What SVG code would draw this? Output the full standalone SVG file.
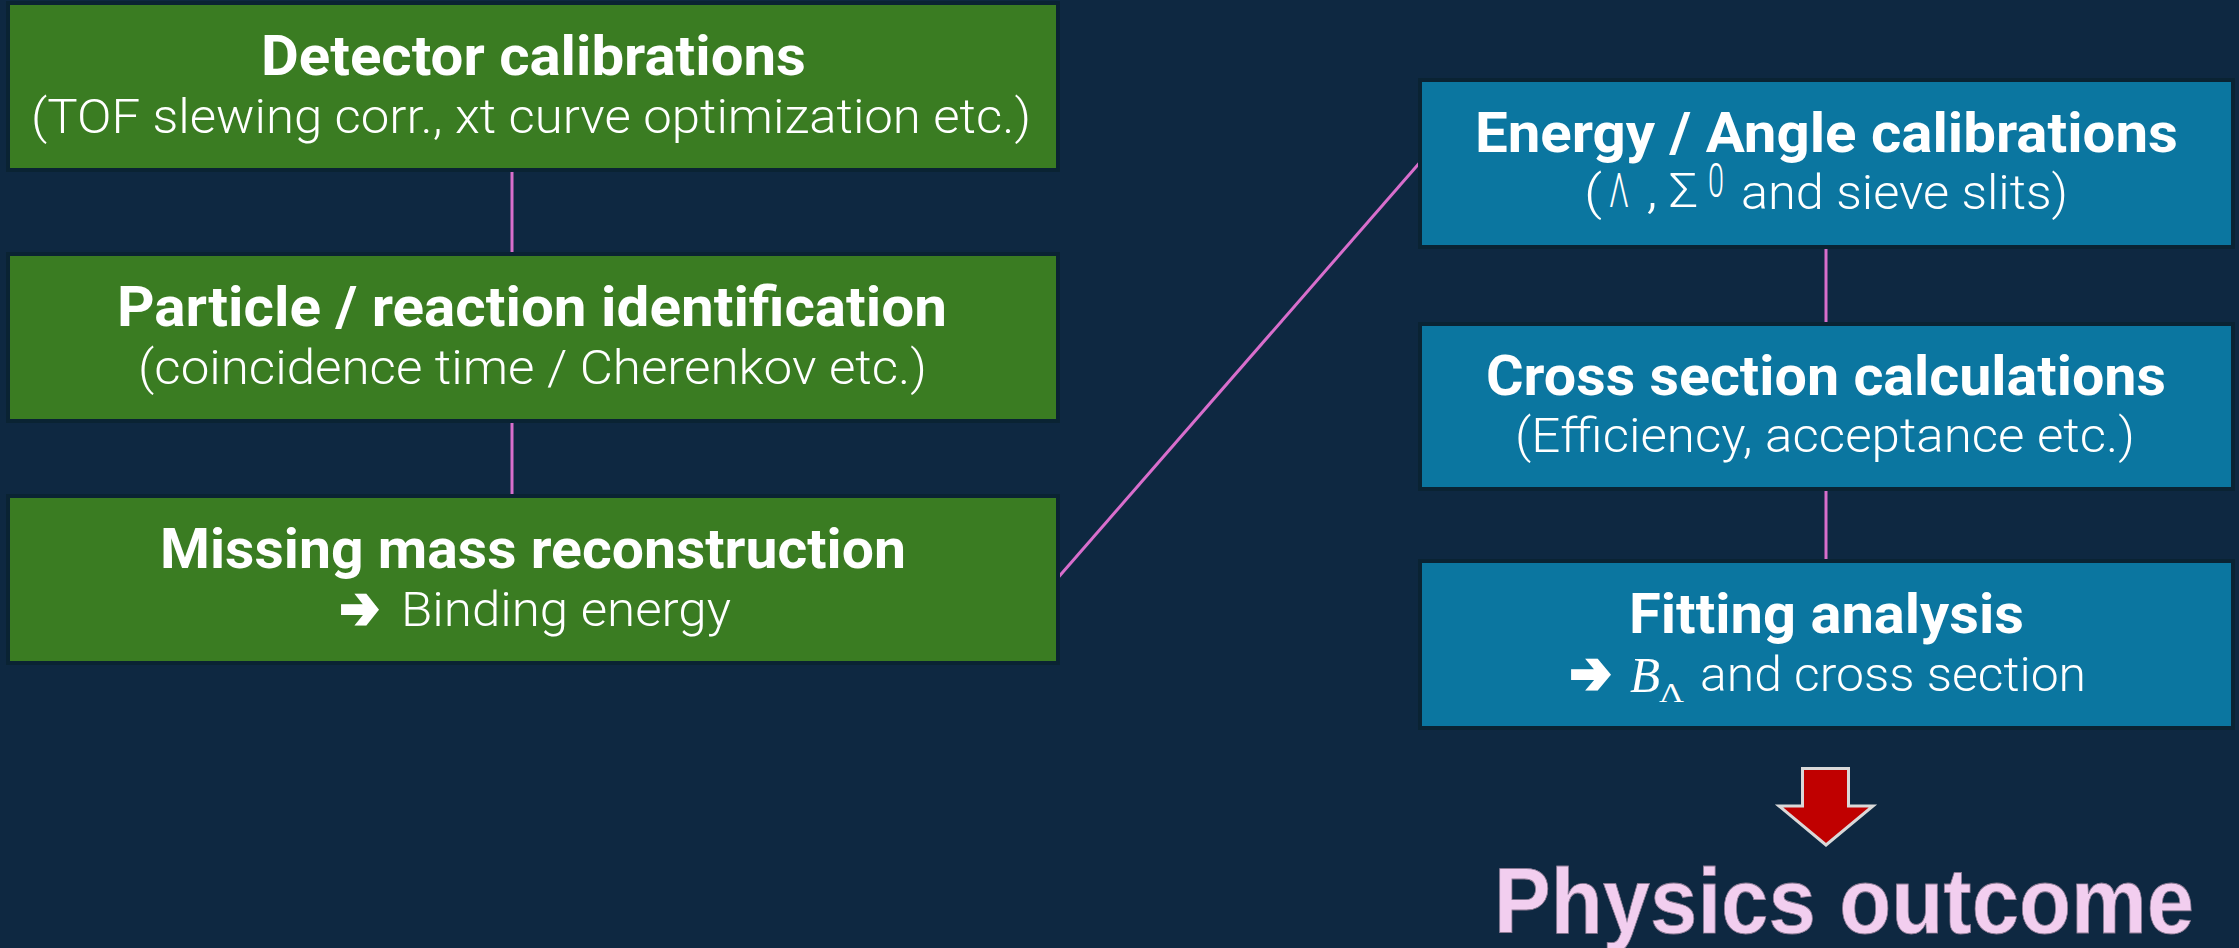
<svg xmlns="http://www.w3.org/2000/svg" width="2239" height="948" viewBox="0 0 2239 948">
  <defs>
    <style>
      .bg { fill: #0E2841; }
      .green { fill: #3A7C22; stroke: #0A2333; stroke-width: 4; }
      .blue { fill: #0B76A0; stroke: #0A2333; stroke-width: 4; }
      .link { stroke: #D86ECC; stroke-width: 3; fill: none; }
      .title { font-family: Roboto, "Liberation Sans", sans-serif; font-weight: 700; font-size: 55px; fill: #FFFFFF; }
      .sub { font-family: Roboto, "Liberation Sans", sans-serif; font-weight: 300; font-size: 48px; fill: #FFFFFF; }
      .sym { font-family: "DejaVu Sans", sans-serif; font-weight: 700; font-size: 58px; fill: #FFFFFF; stroke: #FFFFFF; stroke-width: 4; stroke-linejoin: miter; }
      .math { font-family: "Liberation Serif", "DejaVu Serif", serif; fill: #FFFFFF; }
      .outcome { font-family: "Liberation Sans", Arial, sans-serif; font-weight: 700; font-size: 92px; fill: #F2CEEF; stroke: #8C7A92; stroke-width: 0.8; }
    </style>
  </defs>

  <rect class="bg" x="0" y="0" width="2239" height="948"/>

  <!-- connectors are drawn first so the boxes cover their ends -->
  <g id="connectors">
    <line class="link" x1="512" y1="166" x2="512" y2="258"/>
    <line class="link" x1="512" y1="418" x2="512" y2="500"/>
    <line class="link" x1="1056" y1="580" x2="1422" y2="160"/>
    <line class="link" x1="1826" y1="243" x2="1826" y2="327"/>
    <line class="link" x1="1826" y1="486" x2="1826" y2="565"/>
  </g>

  <g id="detector-calibrations">
    <rect class="green" x="8" y="3" width="1050" height="167"/>
    <text class="title" x="261" y="75" textLength="545" lengthAdjust="spacingAndGlyphs">Detector calibrations</text>
    <text class="sub" x="31" y="133" textLength="1000" lengthAdjust="spacingAndGlyphs">(TOF slewing corr., xt curve optimization etc.)</text>
  </g>

  <g id="particle-identification">
    <rect class="green" x="8" y="254" width="1050" height="167"/>
    <text class="title" x="117" y="326" textLength="830" lengthAdjust="spacingAndGlyphs">Particle / reaction identification</text>
    <text class="sub" x="138" y="384" textLength="789" lengthAdjust="spacingAndGlyphs">(coincidence time / Cherenkov etc.)</text>
  </g>

  <g id="missing-mass">
    <rect class="green" x="8" y="496" width="1050" height="167"/>
    <text class="title" x="160" y="568" textLength="746" lengthAdjust="spacingAndGlyphs">Missing mass reconstruction</text>
    <text class="sym" x="340" y="628" textLength="39" lengthAdjust="spacingAndGlyphs">➔</text>
    <text class="sub" x="401" y="626" textLength="330" lengthAdjust="spacingAndGlyphs">Binding energy</text>
  </g>

  <g id="energy-angle-calibrations">
    <rect class="blue" x="1420" y="80" width="813" height="167"/>
    <text class="title" x="1475" y="152" textLength="703" lengthAdjust="spacingAndGlyphs">Energy / Angle calibrations</text>
    <text class="sub" x="1584" y="209" textLength="18" lengthAdjust="spacingAndGlyphs">(</text>
    <text class="sub" x="1609" y="207" textLength="20" lengthAdjust="spacingAndGlyphs">Λ</text>
    <text class="sub" x="1646" y="207" textLength="12" lengthAdjust="spacingAndGlyphs">,</text>
    <text class="sub" x="1669" y="207" textLength="29" lengthAdjust="spacingAndGlyphs">Σ</text>
    <text class="sub" x="1708" y="197" font-size="22" textLength="16" lengthAdjust="spacingAndGlyphs">0</text>
    <text class="sub" x="1741" y="209" textLength="327" lengthAdjust="spacingAndGlyphs">and sieve slits)</text>
  </g>

  <g id="cross-section">
    <rect class="blue" x="1420" y="324" width="813" height="165"/>
    <text class="title" x="1486" y="395" textLength="680" lengthAdjust="spacingAndGlyphs">Cross section calculations</text>
    <text class="sub" x="1515" y="452" textLength="620" lengthAdjust="spacingAndGlyphs">(Efficiency, acceptance etc.)</text>
  </g>

  <g id="fitting-analysis">
    <rect class="blue" x="1420" y="561" width="813" height="167"/>
    <text class="title" x="1629" y="633" textLength="395" lengthAdjust="spacingAndGlyphs">Fitting analysis</text>
    <text class="sym" x="1570" y="693" textLength="41" lengthAdjust="spacingAndGlyphs">➔</text>
    <text class="math" x="1630" y="692" font-size="50" font-style="italic" textLength="30" lengthAdjust="spacingAndGlyphs">B</text>
    <text class="math" x="1659" y="702" font-size="28" textLength="25" lengthAdjust="spacingAndGlyphs">Λ</text>
    <text class="sub" x="1700" y="691" textLength="386" lengthAdjust="spacingAndGlyphs">and cross section</text>
  </g>

  <g id="physics-outcome">
    <path d="M1802.5,768.5 H1848.5 V806 H1873 L1826,845 L1779,806 H1802.5 Z" fill="#C00000" stroke="#D9D9D9" stroke-width="3" stroke-linejoin="miter"/>
    <text class="outcome" x="1494" y="933" textLength="700" lengthAdjust="spacingAndGlyphs">Physics outcome</text>
  </g>
</svg>
